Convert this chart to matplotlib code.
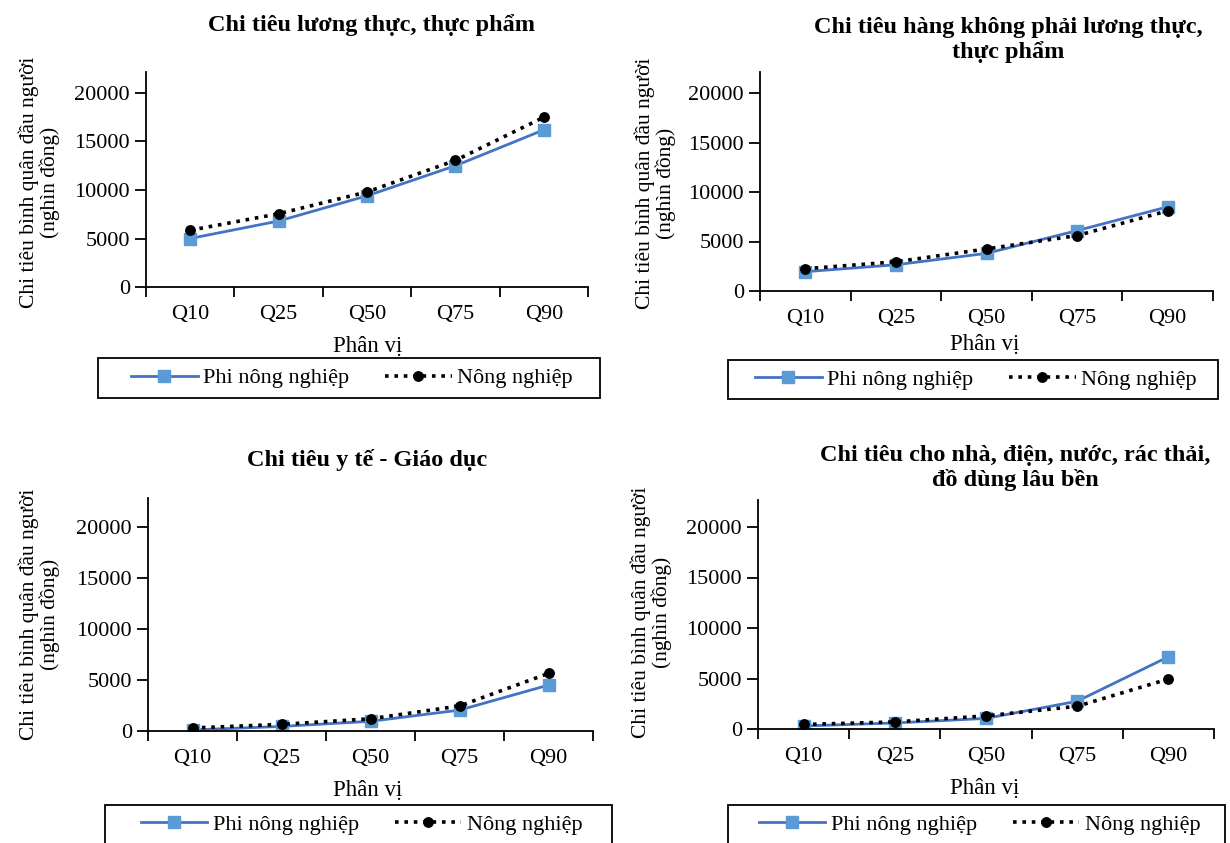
import numpy as np
import matplotlib
matplotlib.use("Agg")
import matplotlib.pyplot as plt
from matplotlib.patches import Rectangle

plt.rcParams['font.family'] = ['Liberation Serif', 'DejaVu Serif']

# --- data (nghìn đồng / người) ---
quantiles = ['Q10', 'Q25', 'Q50', 'Q75', 'Q90']
series_names = ['Phi nông nghiệp', 'Nông nghiệp']

titles = [
    'Chi tiêu lương thực, thực phẩm',
    'Chi tiêu hàng không phải lương thực,\nthực phẩm',
    'Chi tiêu y tế - Giáo dục',
    'Chi tiêu cho nhà, điện, nước, rác thải,\nđồ dùng lâu bền',
]
ylabel = 'Chi tiêu bình quân đầu người\n(nghìn đồng)'
xlabel = 'Phân vị'

food_phi = [5000, 6800, 9400, 12500, 16200]
food_nong = [5850, 7550, 9800, 13050, 17500]

nonfood_phi = [1950, 2650, 3800, 6100, 8500]
nonfood_nong = [2250, 2950, 4250, 5600, 8100]

health_phi = [100, 450, 950, 2050, 4500]
health_nong = [300, 650, 1200, 2450, 5650]

house_phi = [300, 600, 1050, 2750, 7150]
house_nong = [450, 700, 1300, 2250, 4950]

panel_data = [(food_phi, food_nong), (nonfood_phi, nonfood_nong),
              (health_phi, health_nong), (house_phi, house_nong)]

W, H = 1230, 843
fig = plt.figure(figsize=(W / 100, H / 100), dpi=100)

# pixel layout: left, right, y(0), y(20000), ymax value
layout = [
    (146, 588, 287, 93, 22200),
    (760, 1213, 291, 93, 22100),
    (148, 593, 731, 527, 22800),
    (758, 1214, 729, 527, 22700),
]
title_pos = [(371, 25), (1008, 40), (367, 460), (1015, 468)]
ylab_pos = [(39, 182), (655, 183), (39, 614), (651, 612)]
xlab_pos = [(368, 347), (985, 345), (368, 790), (985, 788)]
legend_box = [(98, 358, 600, 398), (728, 360, 1218, 399),
              (105, 805, 612, 845), (728, 805, 1225, 845)]

blue_line = '#4472C4'
blue_mark = '#5B9BD5'
x = np.arange(len(quantiles))

for i, ((l, r, y0, y20, ymax), (phi, nong)) in enumerate(zip(layout, panel_data)):
    px_per = (y0 - y20) / 20000
    top = y0 - ymax * px_per
    ax = fig.add_axes([l / W, 1 - y0 / H, (r - l) / W, (y0 - top) / H])

    ax.plot(x, phi, '-', color=blue_line, lw=2, marker='s', ms=9,
            mfc=blue_mark, mec=blue_mark, label=series_names[0], zorder=2)
    ax.plot(x, nong, linestyle=(0, (1, 1.6)), color='black', lw=2.6,
            marker='o', ms=6.8, label=series_names[1], zorder=3)

    ax.set_xlim(-0.5, len(quantiles) - 0.5)
    ax.set_ylim(0, ymax)
    ax.set_yticks([0, 5000, 10000, 15000, 20000])
    ax.set_xticks(x)
    ax.set_xticklabels(quantiles)
    ax.set_xticks(np.arange(-0.5, len(quantiles)), minor=True)
    ax.tick_params(axis='x', which='major', length=0, pad=13, labelsize=16)
    ax.tick_params(axis='x', which='minor', length=7.5, width=1.3, direction='out')
    ax.tick_params(axis='y', length=8, width=1.3, labelsize=16, pad=3.5)

    for s in ['top', 'right']:
        ax.spines[s].set_visible(False)
    for s in ['left', 'bottom']:
        ax.spines[s].set_linewidth(1.3)

    xx, xy = xlab_pos[i]
    fig.text(xx / W, 1 - xy / H, xlabel, ha='center', va='center', fontsize=16.5)

    lx, ly = ylab_pos[i]
    fig.text(lx / W, 1 - ly / H, ylabel, ha='center', va='center',
             rotation=90, fontsize=15.5, linespacing=1.06, multialignment='center')

    tx, ty = title_pos[i]
    fig.text(tx / W, 1 - ty / H, titles[i], ha='center', va='center',
             fontsize=17.5, fontweight='bold', linespacing=1.22)

    bx0, by0, bx1, by1 = legend_box[i]
    fig.patches.append(Rectangle((bx0 / W, 1 - by1 / H), (bx1 - bx0) / W,
                                 (by1 - by0) / H, transform=fig.transFigure,
                                 fill=False, edgecolor='black', lw=1.3))
    fig.legend(*ax.get_legend_handles_labels(), loc='center',
               bbox_to_anchor=((bx0 + bx1) / 2 / W + 3 / W, 1 - (by0 + by1) / 2 / H),
               ncol=2, frameon=False, fontsize=16, handlelength=3.0,
               handletextpad=0.25, columnspacing=1.6, borderaxespad=0,
               borderpad=0)

fig.savefig('out.png', dpi=100, facecolor='white')
